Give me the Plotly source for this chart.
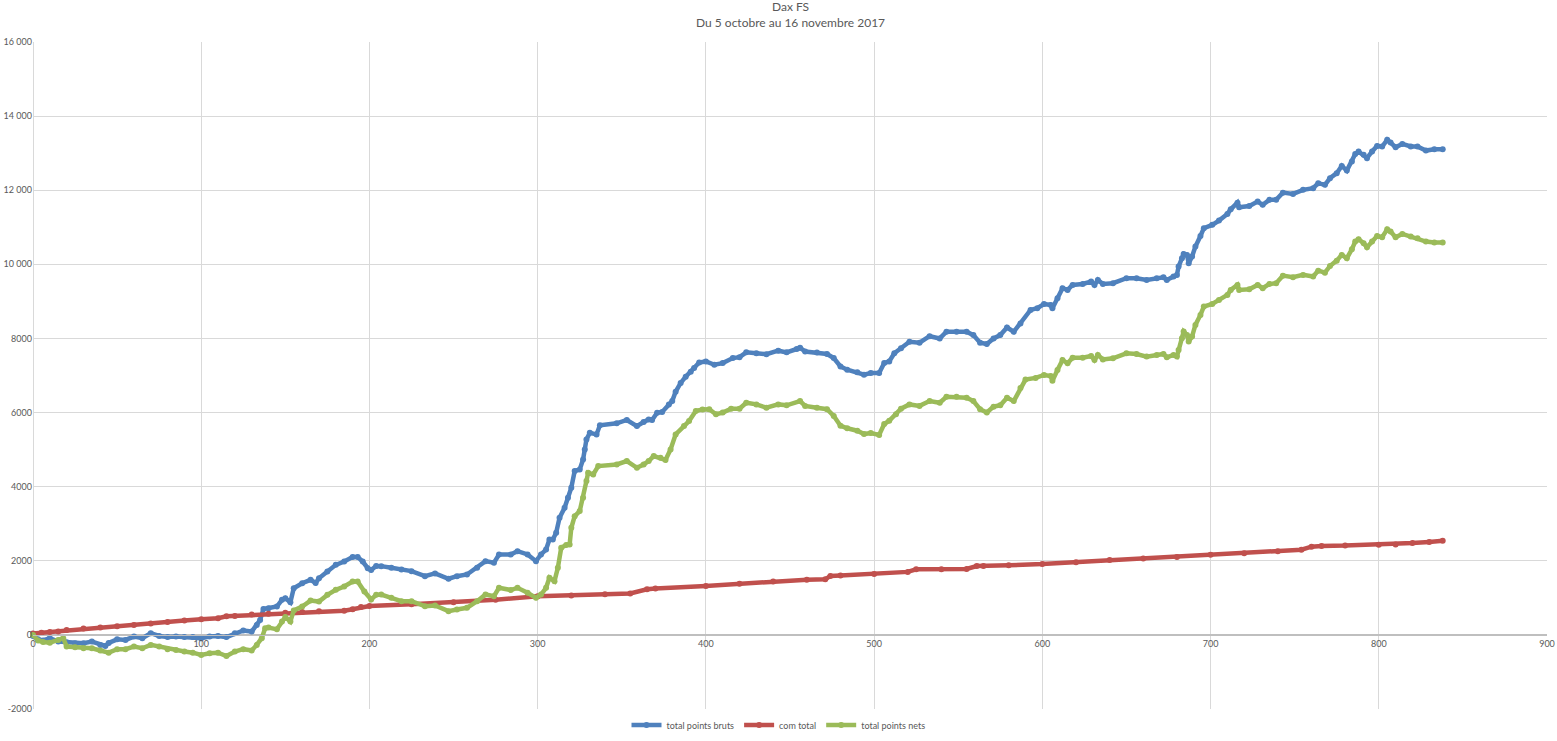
import plotly.graph_objects as go

# total points bruts
x_bruts = [0, 3, 6, 10, 15, 20, 25, 30, 35, 40, 43, 45, 50, 55, 60, 65, 70, 75, 80, 85,
           90, 95, 100, 105, 110, 115, 120, 125, 130, 133, 135, 137, 140, 145, 148, 150,
           153, 155, 160, 165, 168, 170, 175, 180, 185, 190, 193, 196, 199, 201, 204, 207,
           213, 219, 225, 233, 239, 247, 252, 258, 264, 269, 274, 277, 284, 288, 294, 299,
           302, 305, 307, 309, 311, 313, 316, 318, 320, 322, 325, 327, 328, 329, 331, 335,
           337, 347, 353, 359, 363, 366, 368, 371, 374, 378, 380, 382, 385, 388, 391, 393,
           396, 400, 405, 410, 416, 420, 424, 430, 436, 443, 448, 454, 456, 459, 466, 472,
           476, 480, 484, 490, 494, 498, 503, 506, 509, 512, 516, 521, 527, 533, 539, 543,
           549, 555, 559, 563, 567, 571, 575, 579, 583, 587, 593, 597, 601, 605, 606, 609,
           612, 615, 618, 624, 629, 631, 633, 636, 642, 650, 656, 662, 668, 672, 674, 678,
           680, 681, 683, 684, 686, 687, 689, 691, 694, 696, 701, 705, 710, 712, 716, 717,
           723, 728, 731, 735, 739, 743, 749, 755, 761, 764, 768, 771, 775, 778, 781, 784,
           786, 788, 791, 793, 796, 799, 802, 805, 807, 810, 814, 819, 823, 828, 833, 838]
y_bruts = [-30, -120, -150, -90, -180, -200, -225, -225, -180, -270, -300, -220, -120, -135,
           -45, -90, 45, -30, -60, -45, -60, -60, -90, -45, -30, -60, 45, 120, 90, 270, 400,
           700, 720, 765, 945, 990, 880, 1260, 1395, 1485, 1400, 1530, 1710, 1890, 1980,
           2100, 2100, 1980, 1800, 1750, 1860, 1855, 1810, 1765, 1720, 1585, 1660, 1515,
           1585, 1630, 1810, 1990, 1945, 2170, 2170, 2260, 2170, 1990, 2170, 2305, 2575,
           2575, 2755, 3160, 3430, 3700, 3970, 4420, 4465, 4735, 5005, 5275, 5455, 5410,
           5655, 5710, 5800, 5635, 5745, 5815, 5800, 5995, 6015, 6220, 6310, 6560, 6800,
           6966, 7100, 7200, 7350, 7380, 7290, 7335, 7470, 7495, 7625, 7600, 7575, 7670,
           7625, 7715, 7750, 7645, 7620, 7580, 7470, 7245, 7155, 7085, 7020, 7065, 7065,
           7335, 7380, 7600, 7735, 7910, 7885, 8060, 8000, 8180, 8180, 8180, 8090, 7885,
           7850, 8000, 8090, 8295, 8180, 8400, 8770, 8815, 8930, 8905, 8815, 9085, 9355,
           9310, 9445, 9470, 9535, 9445, 9580, 9470, 9490, 9625, 9625, 9580, 9625, 9650,
           9580, 9670, 9715, 9940, 10165, 10280, 10255, 10030, 10210, 10480, 10765, 10975,
           11065, 11180, 11360, 11485, 11665, 11540, 11575, 11695, 11605, 11740, 11740,
           11935, 11900, 12010, 12055, 12190, 12145, 12325, 12460, 12655, 12530, 12775,
           12980, 13045, 12955, 12865, 13045, 13195, 13180, 13360, 13285, 13160, 13250,
           13180, 13180, 13070, 13105, 13105]

# com total
x_com = [0, 5, 10, 15, 20, 30, 40, 50, 60, 70, 80, 90, 100, 110, 115, 120, 130, 140, 150,
         160, 170, 185, 190, 195, 200, 225, 250, 275, 300, 320, 340, 355, 365, 370, 400,
         420, 440, 460, 471, 474, 480, 500, 520, 525, 540, 555, 561, 565, 580, 600, 620,
         640, 660, 680, 700, 720, 740, 754, 760, 766, 780, 800, 810, 820, 830, 838]
y_com = [40, 60, 80, 90, 135, 170, 200, 230, 270, 310, 350, 390, 420, 450, 500, 510, 550,
         570, 600, 620, 640, 650, 690, 750, 780, 830, 880, 950, 1040, 1060, 1100, 1120,
         1230, 1250, 1320, 1380, 1440, 1490, 1500, 1590, 1600, 1640, 1700, 1770, 1770,
         1780, 1860, 1860, 1880, 1910, 1960, 2020, 2060, 2100, 2160, 2200, 2260, 2300,
         2380, 2400, 2410, 2430, 2440, 2480, 2510, 2540]

# total points nets
x_nets = [0, 3, 6, 10, 15, 18, 20, 25, 30, 35, 40, 45, 50, 55, 60, 65, 70, 75, 80, 85, 90,
          95, 100, 105, 110, 115, 120, 125, 130, 133, 136, 138, 140, 145, 148, 150, 153,
          155, 160, 165, 170, 175, 180, 185, 190, 193, 197, 201, 204, 207, 213, 219, 225,
          233, 239, 247, 252, 258, 264, 269, 274, 277, 284, 288, 294, 299, 302, 305, 307,
          310, 312, 314, 317, 319, 320, 322, 325, 327, 329, 330, 333, 336, 347, 353, 359,
          363, 366, 369, 373, 376, 379, 382, 387, 390, 394, 398, 402, 406, 410, 415, 420,
          424, 430, 436, 443, 448, 456, 459, 466, 472, 476, 480, 484, 490, 494, 498, 503,
          506, 509, 513, 516, 521, 527, 533, 539, 543, 549, 555, 559, 563, 567, 571, 575,
          579, 583, 587, 590, 596, 601, 605, 606, 609, 612, 615, 618, 624, 629, 631, 633,
          636, 642, 650, 656, 662, 668, 672, 674, 678, 680, 681, 683, 684, 686, 687, 689,
          691, 694, 696, 701, 705, 710, 712, 716, 717, 723, 728, 731, 735, 739, 743, 749,
          755, 761, 764, 768, 771, 775, 778, 781, 784, 786, 788, 791, 793, 796, 799, 802,
          805, 807, 810, 814, 819, 823, 828, 833, 838]
y_nets = [0, -150, -190, -210, -135, -90, -315, -335, -360, -360, -420, -480, -385, -385,
          -315, -360, -270, -315, -385, -405, -450, -480, -540, -495, -480, -570, -450,
          -385, -420, -270, -90, 180, 200, 150, 360, 480, 360, 660, 765, 925, 900, 1080,
          1215, 1305, 1440, 1440, 1170, 955, 1080, 1090, 1000, 910, 910, 775, 795, 640,
          685, 730, 910, 1090, 1045, 1270, 1210, 1270, 1135, 1000, 1090, 1270, 1540, 1450,
          1810, 2350, 2425, 2440, 2890, 3205, 3340, 3700, 4150, 4375, 4330, 4555, 4600,
          4690, 4510, 4600, 4690, 4825, 4780, 4720, 5005, 5410, 5635, 5770, 6040, 6085,
          6090, 5955, 6000, 6105, 6105, 6265, 6220, 6130, 6220, 6195, 6310, 6180, 6130,
          6090, 5910, 5645, 5575, 5510, 5420, 5450, 5395, 5690, 5780, 5955, 6105, 6220,
          6180, 6310, 6265, 6425, 6425, 6400, 6310, 6090, 6000, 6160, 6195, 6400, 6310,
          6665, 6890, 6935, 7015, 6985, 6860, 7150, 7420, 7330, 7480, 7480, 7525, 7420,
          7555, 7435, 7465, 7600, 7580, 7510, 7555, 7580, 7490, 7555, 7510, 7690, 8005,
          8185, 8095, 7915, 8050, 8365, 8635, 8860, 8930, 9040, 9175, 9310, 9445, 9310,
          9325, 9445, 9355, 9470, 9490, 9695, 9650, 9715, 9670, 9830, 9775, 9955, 10100,
          10255, 10165, 10405, 10615, 10675, 10570, 10460, 10615, 10765, 10730, 10945,
          10885, 10730, 10820, 10750, 10705, 10615, 10590, 10590]

# axis ticks
y_tickvals = [-2000, 0, 2000, 4000, 6000, 8000, 10000, 12000, 14000, 16000]
y_ticktext = ["-2000", "0", "2000", "4000", "6000", "8000",
              "10 000", "12 000", "14 000", "16 000"]

series = [
    ("total points bruts", x_bruts, y_bruts, "#4f81bd"),
    ("com total", x_com, y_com, "#c0504d"),
    ("total points nets", x_nets, y_nets, "#9bbb59"),
]

fig = go.Figure()
for name, xs, ys, col in series:
    fig.add_trace(go.Scatter(
        x=xs, y=ys, name=name, mode="lines+markers",
        line=dict(color=col, width=4.5),
        marker=dict(color=col, size=6),
        cliponaxis=False,
    ))

grid = "#d9d9d9"
fig.update_xaxes(
    range=[0, 900], dtick=100, showgrid=True, gridcolor=grid,
    zeroline=True, zerolinecolor=grid, zerolinewidth=1,
    showline=True, linecolor="#bfbfbf", ticks="",
    anchor="free", position=2000 / 18000, automargin=False,
    tickfont=dict(size=9, color="#595959"),
)
fig.update_yaxes(
    range=[-2000, 16000], tickmode="array", tickvals=y_tickvals, ticktext=y_ticktext,
    showgrid=True, gridcolor=grid, automargin=False,
    zeroline=True, zerolinecolor="#bfbfbf", zerolinewidth=1, ticks="",
    tickfont=dict(size=9, color="#595959"),
)
fig.update_layout(
    width=1557, height=741,
    margin=dict(l=33, r=10, t=42, b=32),
    paper_bgcolor="white", plot_bgcolor="white",
    font=dict(family="Lato, Open Sans, sans-serif", color="#595959"),
    # legend placed on the container so it doesn't push the bottom margin
    legend=dict(orientation="h", xref="container", yref="container",
                x=0.5, xanchor="center", y=16 / 741, yanchor="middle",
                font=dict(size=9, color="#595959"), itemwidth=30),
    showlegend=True,
    annotations=[
        dict(text="Dax FS", xref="paper", yref="paper", x=0.5, y=1 + 35 / 667,
             xanchor="center", yanchor="middle", showarrow=False,
             font=dict(size=12, color="#595959")),
        dict(text="Du 5 octobre au 16 novembre 2017", xref="paper", yref="paper",
             x=0.5, y=1 + 20 / 667, xanchor="center", yanchor="middle", showarrow=False,
             font=dict(size=12, color="#595959")),
    ],
)

# drop the default page margin so the figure sits at the window's corner
fig.write_html(
    "out.html",
    config={"displayModeBar": False},
    post_script="document.body.style.margin='0';document.body.style.overflow='hidden';",
)
